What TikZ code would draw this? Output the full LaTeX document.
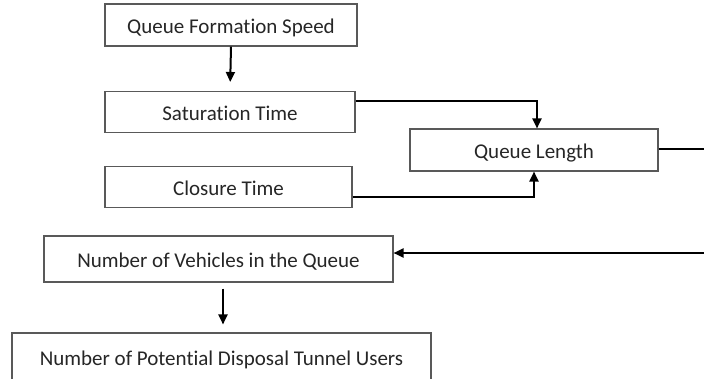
\documentclass[tikz,border=0pt]{standalone}
\usepackage{fontspec}
\setmainfont{Carlito}[Ligatures=NoCommon]
\usetikzlibrary{arrows.meta}
\begin{document}
\begin{tikzpicture}[x=1pt,y=-1pt,
  box/.style={draw=black!65, line width=1.1pt, fill=white, inner sep=0pt,
    text height=18pt, text depth=1.5pt,
    font=\fontsize{21}{25}\selectfont, text=black!85},
  link/.style={line width=2pt, black},
  arr/.style={link, -{Triangle[length=10pt,width=9pt]}}]
\useasboundingbox (0,0) rectangle (704,378);

% boxes
\node[box, minimum width=252pt, minimum height=42pt] (speed) at (231,25) {Queue Formation Speed};
\node[box, minimum width=250pt, minimum height=41pt] (sat) at (230,112) {Saturation Time};
\node[box, minimum width=248pt, minimum height=42pt] (ql) at (534,150) {Queue Length};
\node[box, minimum width=247pt, minimum height=41pt] (close) at (228.5,187) {Closure Time};
\node[box, minimum width=349pt, minimum height=46pt] (veh) at (218.5,259) {Number of Vehicles in the Queue};
\node[box, minimum width=419pt, minimum height=48pt] (users) at (221.5,357) {Number of Potential Disposal Tunnel Users};

% return path beyond the right edge
\coordinate (r1) at (712,149);
\coordinate (r2) at (712,253);

% connectors
\draw[arr, shorten >=9pt] (speed.south) -- (sat.north);
\draw[arr] ([yshift=11pt]sat.east) -| ([xshift=3pt]ql.north);
\draw[arr] ([yshift=-10pt]close.east) -| (ql.south);
\draw[link] (ql.east |- r1) -- (r1) -- (r2);
\draw[arr] (r2) -- (r2 -| veh.east);
\draw[arr, shorten <=6pt, shorten >=8pt] ([xshift=4.5pt]veh.south) -- ([xshift=4.5pt]veh.south |- users.north);
\end{tikzpicture}
\end{document}
